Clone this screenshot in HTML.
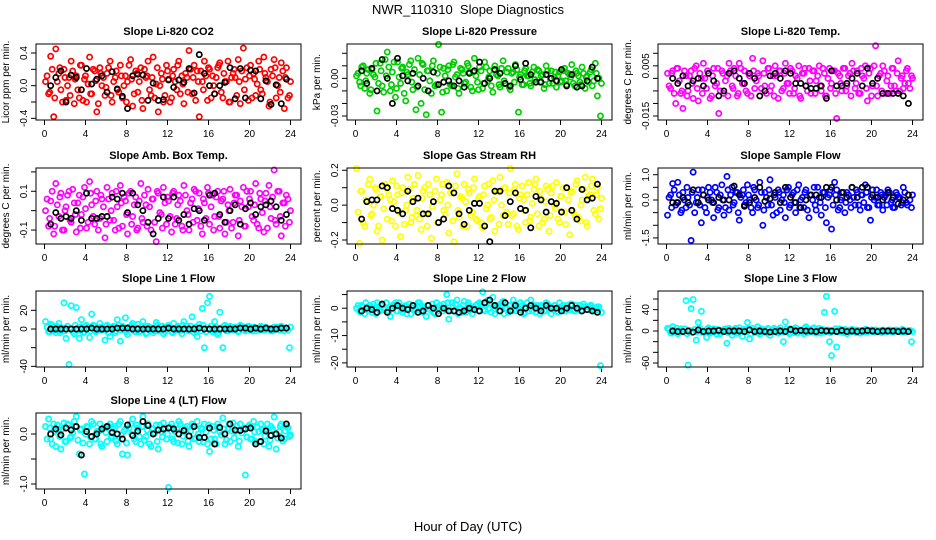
<!DOCTYPE html>
<html><head><meta charset="utf-8"><style>
body{margin:0;background:#fff}
svg{display:block;font-family:"Liberation Sans",sans-serif}
</style></head><body>
<svg id="chart" width="936" height="540" viewBox="0 0 936 540">
<rect width="936" height="540" fill="#fff"/>
<text x="468" y="14" text-anchor="middle" font-size="13">NWR_110310&#160; Slope Diagnostics</text>
<text x="468" y="531" text-anchor="middle" font-size="13">Hour of Day (UTC)</text>
</svg>
<script>
const hoursC=[0.1,0.4,0.6,0.9,1.1,1.4,1.6,1.9,2.1,2.4,2.6,2.9,3.1,3.4,3.6,3.9,4.1,4.4,4.6,4.9,5.1,5.4,5.6,5.9,6.1,6.4,6.6,6.9,7.1,7.4,7.6,7.9,8.1,8.4,8.6,8.9,9.1,9.4,9.6,9.9,10.1,10.4,10.6,10.9,11.1,11.4,11.6,11.9,12.1,12.4,12.6,12.9,13.1,13.4,13.6,13.9,14.1,14.4,14.6,14.9,15.1,15.4,15.6,15.9,16.1,16.4,16.6,16.9,17.1,17.4,17.6,17.9,18.1,18.4,18.6,18.9,19.1,19.4,19.6,19.9,20.1,20.4,20.6,20.9,21.1,21.4,21.6,21.9,22.1,22.4,22.6,22.9,23.1,23.4,23.6,23.9];
const hoursC2=[0.25,0.5,0.75,1.0,1.25,1.5,1.75,2.0,2.25,2.5,2.75,3.0,3.25,3.5,3.75,4.0,4.25,4.5,4.75,5.0,5.25,5.5,5.75,6.0,6.25,6.5,6.75,7.0,7.25,7.5,7.75,8.0,8.25,8.5,8.75,9.0,9.25,9.5,9.75,10.0,10.25,10.5,10.75,11.0,11.25,11.5,11.75,12.0,12.25,12.5,12.75,13.0,13.25,13.5,13.75,14.0,14.25,14.5,14.75,15.0,15.25,15.5,15.75,16.0,16.25,16.5,16.75,17.0,17.25,17.5,17.75,18.0,18.25,18.5,18.75,19.0,19.25,19.5,19.75,20.0,20.25,20.5,20.75,21.0,21.25,21.5,21.75,22.0,22.25,22.5,22.75,23.0,23.25,23.5,23.75,24.0];
const hoursB=[0.6,1.1,1.6,2.1,2.6,3.1,3.6,4.1,4.6,5.1,5.6,6.1,6.6,7.1,7.6,8.1,8.6,9.1,9.6,10.1,10.6,11.1,11.6,12.1,12.6,13.1,13.6,14.1,14.6,15.1,15.6,16.1,16.6,17.1,17.6,18.1,18.6,19.1,19.6,20.1,20.6,21.1,21.6,22.1,22.6,23.1,23.6];
const xTicks=[0,4,8,12,16,20,24];
const titles=["Slope Li-820 CO2","Slope Li-820 Pressure","Slope Li-820 Temp.","Slope Amb. Box Temp.","Slope Gas Stream RH","Slope Sample Flow","Slope Line 1 Flow","Slope Line 2 Flow","Slope Line 3 Flow","Slope Line 4 (LT) Flow"];
const yTitles=["Licor ppm per min.","kPa per min.","degrees C per min.","degrees C per min.","percent per min.","ml/min per min.","ml/min per min.","ml/min per min.","ml/min per min.","ml/min per min."];
const colors=["#ff0000","#00cd00","#ff00ff","#ff00ff","#ffff00","#0000ff","#00ffff","#00ffff","#00ffff","#00ffff"];
const yLims=[[-0.42,0.51],[-0.0332,0.0274],[-0.0166,0.0137],[-0.172,0.22],[-0.223,0.213],[-1.74,1.265],[-40.7,40.7],[-21.5,6.3],[-67.5,75],[-1.1,0.42]];
const yTickVals=[[-0.4,-0.2,0,0.2,0.4],[-0.03,-0.02,-0.01,0,0.01,0.02],[-0.015,-0.01,-0.005,0,0.005,0.01],[-0.1,0,0.1,0.2],[-0.2,-0.1,0,0.1,0.2],[-1.5,-1,-0.5,0,0.5,1],[-40,-20,0,20],[-20,-15,-10,-5,0,5],[-60,-40,-20,0,20,40,60],[-1,-0.5,0]];
const yTickLabels=[["-0.4","","0.0","","0.4"],["-0.03","","","0.00","",""],["-0.015","","","","0.005",""],["-0.1","","0.1",""],["-0.2","","0.0","","0.2"],["-1.5","","","0.0","","1.0"],["-40","","0","20"],["-20","","-10","","0",""],["-60","","","0","","40",""],["-1.0","","0.0"]];

const colorVals=[
[0.05,-0.1,0.36,-0.38,0.45,0.15,-0.05,0.2,-0.18,0.1,0.3,-0.22,0.12,-0.15,0.25,0.08,-0.2,0.35,-0.1,0.18,-0.32,0.22,0.0,-0.12,0.15,0.3,-0.2,0.1,-0.05,0.25,-0.15,0.12,0.05,0.32,-0.25,0.18,-0.08,0.22,-0.28,0.1,0.3,-0.12,0.35,0.02,-0.32,0.15,-0.2,0.25,0.08,-0.15,0.2,-0.05,0.3,0.12,-0.22,0.1,0.43,-0.1,0.25,0.18,-0.38,0.05,0.3,-0.18,0.2,0.12,-0.1,0.22,0.28,-0.15,0.05,0.3,-0.2,0.15,0.1,0.32,-0.22,0.46,0.08,-0.18,0.25,0.15,-0.12,0.3,-0.05,0.35,0.1,-0.25,0.2,0.32,-0.15,0.1,0.28,-0.28,0.22,-0.12],
[0.002,-0.003,0.009,-0.008,0.004,-0.012,0.007,0.001,-0.026,0.012,-0.006,0.015,0.021,-0.01,0.005,-0.015,0.013,-0.004,0.009,-0.018,0.003,0.014,-0.009,-0.025,0.016,-0.02,0.011,-0.029,0.006,-0.012,0.014,-0.005,0.027,-0.027,0.008,-0.01,0.01,-0.006,0.013,0.003,-0.012,0.007,-0.004,0.012,0.005,-0.01,0.016,-0.003,0.009,-0.008,0.013,-0.002,0.006,-0.011,0.01,0.002,-0.007,0.014,-0.004,0.008,-0.009,0.005,0.011,-0.027,0.003,-0.005,0.008,0.002,-0.006,0.009,-0.003,0.006,0.002,-0.008,0.01,-0.004,0.006,0.001,-0.007,0.005,-0.002,0.008,-0.005,0.003,0.011,-0.006,0.004,-0.003,0.009,-0.008,0.002,0.005,-0.006,0.012,-0.014,-0.03],
[0.002,-0.004,0.003,-0.01,0.004,-0.006,-0.012,0.001,-0.005,0.003,-0.008,0.005,-0.009,0.0,0.006,-0.004,0.002,-0.007,0.004,-0.002,-0.014,0.003,-0.006,0.001,0.006,-0.003,0.004,-0.007,0.006,-0.002,0.003,-0.006,0.001,0.008,-0.004,0.002,-0.007,0.007,-0.003,0.004,-0.005,0.001,0.005,-0.008,0.003,-0.004,0.006,-0.002,0.004,-0.006,0.001,0.005,-0.008,0.002,-0.003,0.004,-0.006,0.003,-0.001,0.005,-0.005,0.002,-0.007,0.004,-0.002,0.003,-0.016,0.001,-0.005,0.004,-0.003,0.002,0.006,-0.004,0.003,-0.006,0.001,0.005,-0.009,0.004,-0.003,0.013,-0.007,0.002,0.005,-0.006,0.001,-0.003,0.004,-0.005,0.007,0.0,-0.004,0.003,-0.002,0.001],
[0.0,-0.08,0.05,-0.12,0.14,-0.03,0.09,-0.1,0.02,0.1,-0.06,0.04,-0.11,0.08,-0.02,0.12,-0.09,0.15,0.03,-0.07,0.1,-0.04,0.06,-0.14,0.12,-0.05,0.09,-0.1,0.02,0.13,-0.08,0.05,-0.12,0.1,-0.03,0.07,-0.09,0.14,-0.06,0.03,0.11,-0.1,0.06,-0.16,0.09,-0.02,0.12,-0.07,0.05,-0.11,0.1,-0.04,0.08,-0.08,0.13,0.0,-0.1,0.06,0.11,-0.05,0.09,-0.12,0.04,0.12,-0.07,0.08,-0.03,0.1,-0.09,0.06,-0.12,0.03,0.11,-0.06,0.08,-0.13,0.05,0.12,-0.08,0.02,0.1,-0.05,0.14,-0.09,0.06,-0.11,0.09,0.13,-0.04,0.21,-0.07,0.1,-0.13,0.04,0.08,-0.06],
[0.21,-0.22,0.08,-0.12,0.02,0.15,-0.05,0.1,-0.15,0.05,-0.2,0.12,-0.08,0.03,0.14,-0.12,0.06,-0.18,0.1,-0.03,0.16,-0.1,0.04,-0.06,0.17,-0.14,0.08,-0.05,0.12,-0.19,0.02,0.15,-0.1,0.06,-0.03,0.13,-0.16,0.09,-0.21,0.18,-0.07,0.04,0.12,-0.12,0.07,-0.04,0.15,-0.09,0.05,-0.13,0.11,0.0,-0.08,0.14,-0.15,0.08,0.16,-0.06,0.1,-0.11,0.21,-0.05,0.12,-0.14,0.06,0.03,-0.1,0.13,-0.07,0.09,0.15,-0.12,0.04,-0.08,0.11,-0.15,0.07,0.0,0.13,-0.1,0.05,-0.04,0.1,-0.17,0.08,-0.06,0.14,-0.09,0.03,0.16,-0.12,0.06,0.15,-0.05,0.1,-0.02],
[-0.6,0.2,0.65,-0.2,0.7,-0.5,0.3,-0.3,0.1,-1.6,1.1,-0.1,0.4,-0.9,0.2,-0.5,0.5,0.0,-0.7,0.3,-0.3,0.6,-0.6,0.93,-0.4,0.5,-0.1,0.3,-0.8,0.2,-0.2,0.6,0.0,-0.5,0.4,-0.3,0.7,-1.0,0.3,-0.2,0.8,-0.6,0.1,0.4,-0.4,0.2,-0.7,0.5,-0.2,0.3,-0.5,0.6,0.0,-0.3,0.4,-0.7,0.2,0.5,-0.4,0.1,-0.6,0.3,-0.9,0.2,-1.15,0.7,0.4,-0.3,0.1,-0.5,0.3,0.0,0.5,-0.2,0.3,-0.4,0.2,0.6,-0.3,-0.8,0.4,0.1,-0.2,0.3,-0.4,0.2,0.4,-0.1,-0.3,0.3,0.1,-0.2,0.5,-0.1,0.2,-0.3],
[8,-3,5,2,-4,6,-2,28,-10,-38,25,-5,23,-10,10,-3,4,-9,16,3,-2,6,-1,-12,4,-8,2,-4,10,-13,3,12,-6,2,6,-3,5,-2,8,-5,3,1,-4,7,-2,3,-5,2,4,-3,6,-1,2,-5,8,3,-2,13,-4,-8,5,22,-20,28,35,-3,8,-6,18,-20,4,-2,3,-1,2,-3,4,1,-2,3,-1,2,-2,1,3,-1,2,0,-2,2,1,-1,3,-2,1,-20],
[0,-1,1,-2,0.5,1,-1.5,0,2,-1,1.5,0,-1,-3,1,2,-1,0.5,-1.5,1,0,-2,1,-0.5,2,-1,0.5,-3,1,0,-1.5,2,-1,0,1.5,5,-4,2,-1,3,0,-1.5,2.5,-0.5,1,-2,0,1.5,2,6,-1,3,0,4,-2,1,-1,2.5,0,-1.5,1,3,-1,0,2,-2,0.5,-1,3,1,-1.5,0,1,-1,2,0,-2,1,-1,2,0,-1,1,-0.5,1.5,-1,0,1,-1,0.5,-0.5,1,0,-1,0.5,-21],
[5,-3,8,0,-5,4,-2,57,-64,42,59,-17,16,37,-3,-12,6,-2,4,-6,2,-1,3,-23,5,-8,2,-4,6,-10,3,16,-15,5,-3,8,-6,3,-2,5,-8,2,0,-4,6,-20,17,-2,4,-3,6,-1,2,-5,8,3,-2,6,-4,5,-3,35,65,-20,-46,37,-30,4,-2,3,-5,2,3,-1,2,-4,1,3,-2,1,-1,2,-2,1,2,-1,1,0,-2,2,1,-1,2,-2,1,-20],
[0.15,0.3,-0.1,0.2,-0.25,0.1,-0.3,0.22,-0.15,0.18,-0.05,0.25,0.35,-0.4,0.1,-0.8,0.15,-0.2,0.25,-0.1,0.05,0.2,-0.25,0.12,-0.15,0.2,-0.05,0.15,-0.2,0.25,-0.4,0.1,-0.42,0.2,0.3,-0.15,0.12,-0.2,0.35,-0.05,0.2,-0.25,0.1,0.18,-0.3,0.05,0.22,-0.1,-1.07,0.2,-0.15,0.1,0.25,-0.2,0.05,0.15,-0.25,0.2,-0.1,0.25,-0.15,0.1,0.2,-0.2,-0.35,0.15,-0.1,0.2,0.05,0.32,-0.2,0.1,-0.15,0.22,0.05,-0.25,0.2,0.1,-0.82,0.15,-0.1,0.25,-0.15,0.05,0.2,-0.2,0.1,-0.25,0.15,0.34,-0.3,0.05,0.2,-0.1,0.15,-0.05]
];
const colorVals2=[
[0.12,-0.08,0.2,-0.15,0.05,0.22,-0.2,0.1,0.0,-0.12,0.18,0.08,-0.05,0.25,-0.18,0.12,0.02,-0.1,0.2,0.06,-0.22,0.15,0.1,-0.02,0.22,-0.12,0.05,0.18,-0.08,0.12,0.0,-0.2,0.25,0.08,-0.1,0.15,0.05,-0.18,0.2,0.12,-0.05,0.1,-0.15,0.22,0.0,0.08,-0.12,0.18,-0.2,0.12,0.05,0.25,-0.1,0.02,0.15,-0.08,0.2,0.1,-0.18,0.05,0.18,-0.05,0.12,0.22,-0.15,0.0,0.1,0.25,-0.08,0.15,0.05,-0.2,0.1,0.2,-0.12,0.05,0.18,-0.05,0.22,0.12,-0.15,0.08,0.02,0.2,-0.1,0.15,0.05,-0.2,0.12,0.22,0.0,-0.08,0.18,0.1,-0.15,0.05],
[0.004,-0.006,0.01,-0.002,0.007,-0.009,0.003,0.012,-0.004,0.006,-0.011,0.002,0.009,-0.005,0.013,-0.008,0.001,0.008,-0.012,0.005,0.011,-0.003,0.007,-0.007,0.003,0.012,-0.009,0.006,-0.002,0.01,-0.006,0.004,0.009,-0.011,0.002,0.007,-0.005,0.011,0.001,-0.008,0.008,0.004,-0.003,0.01,-0.007,0.005,0.002,-0.009,0.006,-0.004,0.009,0.001,-0.006,0.007,0.003,-0.005,0.008,-0.002,0.005,-0.007,0.004,-0.003,0.007,0.001,-0.005,0.006,0.002,-0.004,0.005,-0.001,0.007,-0.003,0.003,-0.005,0.006,0.0,-0.004,0.005,0.002,-0.003,0.006,-0.002,0.004,0.001,-0.004,0.006,0.002,-0.005,0.004,0.001,-0.003,0.007,-0.002,0.004,0.0,-0.004],
[-0.003,0.002,-0.006,0.004,-0.001,-0.005,0.003,-0.007,0.001,-0.002,0.004,-0.004,0.002,-0.006,0.0,0.003,-0.008,0.001,-0.003,0.004,-0.005,0.002,-0.001,-0.007,0.003,-0.004,0.001,-0.006,0.004,-0.002,-0.005,0.002,-0.007,0.003,-0.001,0.001,-0.004,0.002,-0.006,0.004,-0.003,-0.007,0.001,0.003,-0.005,0.002,-0.002,-0.006,0.003,-0.004,0.0,-0.007,0.002,0.004,-0.005,-0.001,0.003,-0.006,0.001,-0.003,0.004,-0.007,0.0,-0.004,0.003,-0.006,0.002,-0.002,0.004,-0.005,0.001,-0.007,0.003,-0.002,-0.006,0.004,0.0,-0.004,0.002,-0.007,0.005,-0.003,0.001,-0.005,0.003,-0.001,-0.006,0.004,-0.003,0.002,-0.005,0.001,-0.002,0.004,-0.004,0.0],
[0.06,-0.04,0.1,-0.08,0.03,0.07,-0.1,0.0,0.08,-0.05,0.11,-0.02,0.04,-0.09,0.07,0.01,-0.06,0.09,-0.03,0.05,-0.1,0.08,0.02,-0.07,0.06,0.0,-0.05,0.1,-0.09,0.04,0.07,-0.02,0.09,-0.07,0.03,-0.1,0.05,-0.04,0.08,-0.08,0.02,0.06,-0.06,0.1,-0.01,-0.09,0.04,0.07,-0.03,0.09,-0.07,0.03,0.05,-0.1,0.08,-0.02,0.04,-0.06,0.1,0.01,-0.08,0.06,-0.04,0.09,0.02,-0.1,0.07,-0.03,0.05,0.1,-0.06,0.0,-0.09,0.04,0.08,-0.05,0.02,-0.08,0.1,0.06,-0.03,0.03,-0.07,0.09,-0.01,0.05,-0.09,0.02,0.07,-0.05,0.1,-0.03,0.04,-0.08,0.06,0.0],
[-0.04,0.08,-0.1,0.03,0.12,-0.06,0.0,0.09,-0.12,0.05,-0.02,0.1,0.06,-0.09,0.02,0.11,-0.04,0.07,-0.11,0.0,0.09,-0.07,0.12,-0.03,-0.08,0.04,0.1,-0.12,0.06,-0.01,0.08,-0.1,0.03,0.12,-0.05,0.0,0.07,-0.09,0.11,-0.03,0.05,-0.12,0.02,0.09,-0.06,0.1,-0.08,0.04,-0.1,0.06,-0.02,0.12,-0.07,0.03,0.08,-0.11,0.0,0.1,-0.04,0.07,-0.06,0.09,-0.12,0.04,0.11,-0.03,0.06,-0.09,0.01,0.12,-0.05,0.08,-0.1,0.02,0.09,-0.06,0.11,-0.02,-0.08,0.05,0.1,-0.11,0.03,0.07,-0.04,0.12,-0.07,0.0,0.09,-0.1,0.05,0.11,-0.03,0.06,-0.08,0.04],
[0.1,-0.3,0.4,-0.1,0.2,-0.4,0.0,0.5,-0.2,0.3,-0.5,0.1,-0.2,0.4,-0.3,0.1,0.3,-0.1,0.5,-0.4,0.2,0.0,-0.3,0.4,0.2,-0.2,0.3,-0.5,0.1,0.4,-0.1,0.2,-0.3,0.5,0.0,-0.2,0.3,-0.4,0.1,0.4,-0.2,0.2,-0.5,0.3,0.0,-0.1,0.4,-0.3,0.2,-0.1,0.4,-0.3,0.1,0.3,-0.4,0.2,0.0,-0.2,0.5,-0.1,0.3,-0.3,0.1,0.4,-0.2,0.2,-0.4,0.0,0.3,-0.1,0.2,-0.3,0.1,0.4,-0.2,0.2,-0.1,0.3,-0.3,0.1,0.0,0.4,-0.2,0.2,0.1,-0.2,0.3,0.0,-0.3,0.2,0.1,-0.1,0.3,-0.2,0.0,0.2],
[2,-3,4,-1,3,-4,1,-2,3,0,-3,4,-1,2,-4,3,1,-2,4,-3,0,2,-1,3,-4,1,3,-2,4,-1,0,-3,2,4,-2,1,-3,3,0,-4,2,1,-2,4,-1,3,-3,0,2,-4,1,3,-2,4,0,-1,3,-3,2,1,-2,4,-3,0,3,-1,2,-4,1,3,-2,0,2,-1,1,-2,3,0,-1,2,-2,1,0,-1,2,-1,1,0,-2,1,2,-1,0,1,-1,2],
[1,-1.5,0.5,2,-1,0,1.5,-2,0.5,1,-0.5,2,-1.5,0,1,-1,2,-0.5,0.5,-2,1.5,0,-1,1,2,-1.5,0,1,-0.5,1.5,-2,0.5,1,-1,0,2,-1,0.5,1.5,-2,0,1,-1.5,2,-0.5,0.5,1,-1,1.5,-0.5,2,0,-1.5,1,0.5,-1,2,-2,0,1,-1,1.5,0.5,-0.5,1,-1.5,2,0,-1,0.5,1,-2,0.5,-1,1.5,0,-0.5,1,-1.5,0.5,1,-1,0,1.5,-0.5,1,0,-1,1.5,-0.5,0.5,1,-1,0,0.5,-1.5],
[3,-4,2,5,-2,0,4,-5,1,-3,3,-1,5,-2,0,4,-4,2,-1,3,-5,1,4,-3,2,-1,5,-4,0,3,-2,4,-5,1,2,-3,4,0,-4,3,-1,5,-3,2,0,-2,4,-5,1,3,-4,2,-1,5,-3,0,4,-2,1,-4,3,-1,2,-3,0,4,-2,1,-3,2,0,-1,2,-3,1,0,-2,3,-1,2,-2,1,0,-3,1,-1,2,-2,0,1,-1,3,-2,0,1,-1],
[-0.1,0.12,-0.2,0.05,0.18,-0.05,0.1,-0.15,0.2,-0.08,0.02,0.15,-0.12,0.08,-0.18,0.0,0.14,-0.06,0.2,-0.1,0.05,-0.2,0.12,0.03,0.16,-0.08,0.1,-0.14,0.2,-0.02,0.06,-0.18,0.12,0.0,-0.1,0.18,-0.05,0.15,-0.12,0.08,-0.2,0.1,0.02,-0.15,0.18,-0.06,0.12,0.0,0.14,-0.1,0.05,-0.18,0.2,-0.04,0.1,-0.14,0.06,0.16,-0.08,0.0,0.12,-0.16,0.04,0.18,-0.1,0.08,-0.2,0.14,-0.02,0.1,-0.12,0.2,0.06,-0.08,0.16,-0.14,0.02,0.12,-0.06,0.18,-0.1,0.04,0.14,-0.16,0.08,-0.04,0.2,-0.12,0.1,0.0,-0.08,0.16,-0.14,0.06,0.12,-0.02]
];
const blackVals=[
[0.0,0.1,0.18,-0.2,0.13,0.1,-0.05,0.21,0.02,0.08,0.12,-0.08,0.17,-0.04,-0.13,-0.28,0.12,0.14,0.13,-0.18,0.03,-0.18,-0.17,0.07,-0.02,0.07,0.04,0.21,-0.09,0.38,0.15,0.0,-0.1,0.0,0.04,0.22,-0.16,0.21,-0.15,0.19,0.18,-0.16,0.06,-0.23,0.01,-0.22,0.08],
[0.006,-0.004,0.008,-0.01,0.015,0.0,-0.02,0.016,0.002,-0.002,0.004,-0.006,0.0,-0.01,0.005,-0.005,-0.003,-0.002,-0.006,-0.002,-0.007,0.004,0.006,0.013,-0.004,0.0,0.007,0.004,-0.004,-0.006,0.01,-0.001,0.012,0.003,-0.003,-0.003,0.003,0.0,-0.002,0.007,-0.006,0.003,-0.007,-0.006,-0.002,0.009,0.0],
[0.0,-0.002,0.001,-0.003,-0.001,0.0,-0.003,0.002,-0.001,-0.007,-0.005,0.002,0.003,0.0,-0.002,0.002,0.0,-0.007,-0.005,0.001,0.002,0.0,0.003,0.002,-0.002,-0.002,-0.003,-0.004,-0.004,-0.003,-0.008,0.003,-0.003,-0.003,-0.002,0.0,0.002,-0.003,0.004,-0.002,0.0,-0.006,-0.006,-0.006,-0.006,-0.007,-0.01],
[-0.07,-0.01,-0.04,-0.03,-0.04,0.0,-0.05,0.09,-0.04,-0.04,-0.03,-0.03,0.07,0.06,0.09,-0.01,0.09,0.03,0.0,-0.06,-0.12,-0.04,0.07,-0.04,0.07,-0.05,-0.02,-0.07,0.01,0.0,-0.05,0.08,0.09,-0.02,-0.06,0.0,0.03,-0.07,0.01,0.04,-0.02,0.02,0.03,0.05,0.02,-0.05,-0.02],
[-0.08,0.02,0.03,0.03,0.11,0.1,-0.02,-0.03,-0.05,0.08,0.02,0.04,-0.05,-0.05,0.02,-0.1,-0.08,0.11,0.07,-0.05,-0.11,-0.03,0.01,0.01,-0.12,-0.21,0.08,0.08,-0.06,0.02,0.07,-0.02,-0.03,-0.13,0.05,0.03,-0.04,0.02,0.01,-0.04,0.1,-0.03,-0.08,0.09,0.03,0.04,0.12],
[-0.1,-0.1,0.1,-0.1,0.4,-0.1,0.2,0.0,-0.1,0.1,0.0,0.0,0.55,0.2,-0.25,-0.1,0.1,0.5,-0.05,0.05,0.3,-0.1,0.5,0.1,-0.1,-0.3,0.0,0.2,0.2,0.1,0.5,0.5,0.0,0.3,0.1,0.5,0.1,0.5,0.5,0.2,0.1,0.0,0.3,0.1,-0.15,0.0,0.2],
[0,0,0,0,0,0,0,0,1,0,0,0,0,1,1,1,0,0,0,0,0,0,0,1,0,0,0,0,0,1,0,0,0,0,0,0,0,1,1,0,1,0,1,0,0,1,1],
[-1,0,-0.5,-1.5,1.5,-1.5,0,1,0,-0.5,1,-1.5,-1,1,0,-2,0,-1,-1,-1.5,-1,0,-0.5,-1,2,3,1,-1,2,-1,1,-1.5,0,1,0,-1,1,0,0,-1,0,1,0,-1,-0.5,-1,-1.5],
[0,-1,-1,0,-2,2,-1,0,0,1,-1,0,0,0,-1,2,-1,0,-1,-2,-1,0,-1,3,0,1,0,0,-1,1,0,0,-1,1,-1,0,-1,0,1,0,-1,0,0,0,-1,0,-1],
[0.0,0.1,-0.02,0.12,0.08,0.15,-0.42,0.05,-0.05,0.0,0.1,0.15,0.03,0.0,-0.1,0.18,-0.03,0.06,0.25,0.17,0.0,0.08,0.1,0.12,0.1,0.0,0.07,-0.04,0.15,-0.07,-0.07,0.12,-0.2,0.13,0.0,0.2,0.08,0.07,0.1,0.12,-0.2,-0.15,0.06,-0.03,0.0,-0.08,0.2]
];

const NS="http://www.w3.org/2000/svg";
const svg=document.getElementById('chart');
function mk(tag,attrs,parent){const e=document.createElementNS(NS,tag);for(const k in attrs)e.setAttribute(k,attrs[k]);parent.appendChild(e);return e;}
const colLeft=[36,347,658], rowTop=[44,168,291,413], W=265, H=76;
for(let p=0;p<10;p++){
  const L=colLeft[p%3], T=rowTop[Math.floor(p/3)];
  const g=mk('g',{},svg);
  
  
  const xs=v=>L+8.5+(v/24)*(W-19);
  const [y0,y1]=yLims[p];
  const ys=v=>T+H-(v-y0)/(y1-y0)*H;
  const t=mk('text',{x:L+W/2,y:T-9,'text-anchor':'middle','font-size':11,'font-weight':'bold'},g);
  t.textContent=titles[p];
  
  
  const yt=mk('text',{transform:`translate(${L-27},${T+H/2}) rotate(-90)`,'text-anchor':'middle','font-size':10},g);
  yt.textContent=yTitles[p];
  
  
  const xa=mk('g',{},g);
  
  
  mk('line',{x1:xs(0),x2:xs(24),y1:T+H,y2:T+H,stroke:'#000'},xa);
  xTicks.forEach(v=>{
    mk('line',{x1:xs(v),x2:xs(v),y1:T+H,y2:T+H+5,stroke:'#000'},xa);
    const tx=mk('text',{x:xs(v),y:T+H+17,'text-anchor':'middle','font-size':10},xa);
    tx.textContent=String(v);
  });
  const ya=mk('g',{},g);
  
  
  yTickVals[p].forEach((v,i)=>{
    mk('line',{x1:L-5,x2:L,y1:ys(v),y2:ys(v),stroke:'#000'},ya);
    const lab=yTickLabels[p][i];
    if(lab){const tx=mk('text',{transform:`translate(${L-9},${ys(v)}) rotate(-90)`,'text-anchor':'middle','font-size':10},ya);tx.textContent=lab;}
  });
  const cg=mk('g',{fill:'none',stroke:colors[p],'stroke-width':1.7},g);
  
  
  colorVals[p].forEach((v,i)=>{
    const c=mk('circle',{cx:xs(hoursC[i]),cy:ys(v),r:2.6},cg);
    
    
  });
  colorVals2[p].forEach((v,i)=>{
    const c=mk('circle',{cx:xs(hoursC2[i]),cy:ys(v),r:2.6},cg);
    
    
  });
  const bg=mk('g',{fill:'none',stroke:'#000','stroke-width':1.7},g);
  
  
  blackVals[p].forEach((v,i)=>{
    const c=mk('circle',{cx:xs(hoursB[i]),cy:ys(v),r:2.6},bg);
    
    
  });
  const box=mk('rect',{x:L,y:T,width:W,height:H,fill:'none',stroke:'#000'},g);
  
  
}
</script>
</body></html>
